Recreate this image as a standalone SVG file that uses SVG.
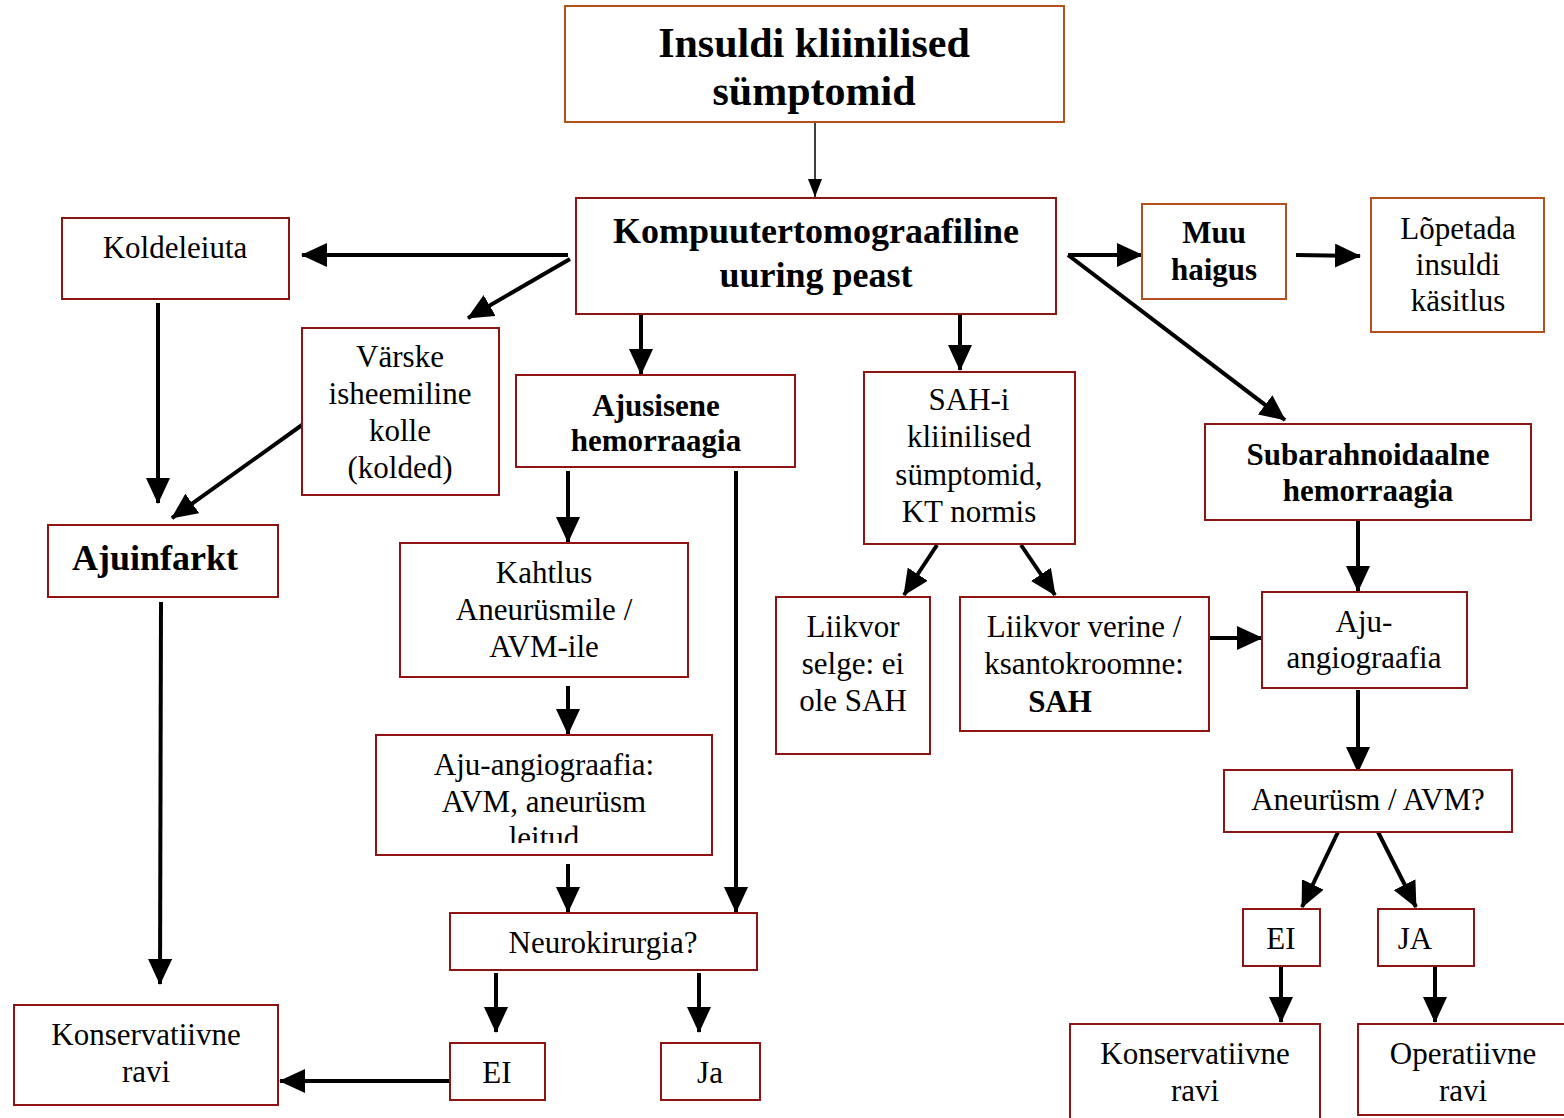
<svg xmlns="http://www.w3.org/2000/svg" width="1564" height="1118" viewBox="0 0 1564 1118">
<style>
.b{fill:#fff;stroke:#8e1414;stroke-width:2}
.o{fill:#fff;stroke:#b4501e;stroke-width:2}
text{font-family:"Liberation Serif","Times New Roman",serif;font-size:31px;fill:#000;text-anchor:middle}
.bd{font-weight:bold}
.c line{stroke:#000;stroke-width:4;marker-end:url(#ah)}
</style>
<defs>
<marker id="ah" markerUnits="userSpaceOnUse" markerWidth="26" markerHeight="24" refX="25" refY="12" orient="auto">
<path d="M0,0 L26,12 L0,24 z" fill="#000"/>
</marker>
<marker id="ahs" markerUnits="userSpaceOnUse" markerWidth="18" markerHeight="14" refX="18" refY="7" orient="auto">
<path d="M0,0 L18,7 L0,14 z" fill="#000"/>
</marker>
<clipPath id="clipAng"><rect x="376" y="735" width="336" height="108"/></clipPath>
</defs>
<g class="c" id="connectors">
<line x1="815" y1="122" x2="815" y2="197" style="stroke-width:1.5;marker-end:url(#ahs)"/>
<line x1="568" y1="255" x2="302" y2="255"/>
<line x1="570" y1="259" x2="468" y2="318"/>
<line x1="158" y1="303" x2="158" y2="503"/>
<line x1="302" y1="425" x2="172" y2="518"/>
<line x1="161" y1="602" x2="160" y2="984"/>
<line x1="450" y1="1081" x2="280" y2="1081"/>
<line x1="641" y1="314" x2="641" y2="374"/>
<line x1="568" y1="471" x2="568" y2="542"/>
<line x1="568" y1="686" x2="568" y2="734"/>
<line x1="568" y1="864" x2="568" y2="912"/>
<line x1="736" y1="471" x2="736" y2="912"/>
<line x1="496" y1="973" x2="496" y2="1032"/>
<line x1="699" y1="973" x2="699" y2="1032"/>
<line x1="960" y1="314" x2="960" y2="370"/>
<line x1="937" y1="545" x2="904" y2="595"/>
<line x1="1021" y1="545" x2="1055" y2="595"/>
<line x1="1209" y1="638" x2="1262" y2="638"/>
<line x1="1068" y1="255" x2="1142" y2="255"/>
<line x1="1068" y1="255" x2="1285" y2="420" style="marker-end:url(#ah)"/>
<line x1="1296" y1="255" x2="1360" y2="256"/>
<line x1="1358" y1="520" x2="1358" y2="591"/>
<line x1="1358" y1="690" x2="1358" y2="772"/>
<line x1="1338" y1="832" x2="1302" y2="907"/>
<line x1="1378" y1="832" x2="1416" y2="907"/>
<line x1="1281" y1="966" x2="1281" y2="1022"/>
<line x1="1435" y1="966" x2="1435" y2="1022"/>
</g>
<g id="n-insult"><rect class="o" x="565" y="6" width="499" height="116"/>
<text class="bd" x="814" y="57" style="font-size:42px">Insuldi kliinilised</text>
<text class="bd" x="814" y="105" style="font-size:42px">sümptomid</text></g>
<g id="n-kt"><rect class="b" x="576" y="198" width="480" height="116"/>
<text class="bd" x="816" y="243" style="font-size:36px">Kompuutertomograafiline</text>
<text class="bd" x="816" y="287" style="font-size:36px">uuring peast</text></g>
<g id="n-koldeleiuta"><rect class="b" x="62" y="218" width="227" height="81"/>
<text x="175" y="258">Koldeleiuta</text></g>
<g id="n-varske"><rect class="b" x="302" y="328" width="197" height="167"/>
<text x="400" y="367">Värske</text><text x="400" y="404">isheemiline</text><text x="400" y="441">kolle</text><text x="400" y="478">(kolded)</text></g>
<g id="n-ajuinfarkt"><rect class="b" x="48" y="525" width="230" height="72"/>
<text class="bd" x="155" y="570" style="font-size:36px">Ajuinfarkt</text></g>
<g id="n-konserv1"><rect class="b" x="14" y="1005" width="264" height="100"/>
<text x="146" y="1045">Konservatiivne</text><text x="146" y="1082">ravi</text></g>
<g id="n-ajusisene"><rect class="b" x="516" y="375" width="279" height="92"/>
<text class="bd" x="656" y="416">Ajusisene</text><text class="bd" x="656" y="451">hemorraagia</text></g>
<g id="n-kahtlus"><rect class="b" x="400" y="543" width="288" height="134"/>
<text x="544" y="583">Kahtlus</text><text x="544" y="620">Aneurüsmile /</text><text x="544" y="657">AVM-ile</text></g>
<g id="n-angio1"><rect class="b" x="376" y="735" width="336" height="120"/>
<text x="544" y="775">Aju-angiograafia:</text><text x="544" y="812">AVM, aneurüsm</text>
<text x="544" y="848" clip-path="url(#clipAng)">leitud</text></g>
<g id="n-neuro"><rect class="b" x="450" y="913" width="307" height="57"/>
<text x="603" y="953">Neurokirurgia?</text></g>
<g id="n-ei1"><rect class="b" x="450" y="1043" width="95" height="57"/>
<text x="497" y="1083">EI</text></g>
<g id="n-ja1"><rect class="b" x="661" y="1043" width="99" height="57"/>
<text x="710" y="1083">Ja</text></g>
<g id="n-sahi"><rect class="b" x="864" y="372" width="211" height="172"/>
<text x="969" y="410">SAH-i</text><text x="969" y="447">kliinilised</text><text x="969" y="485">sümptomid,</text><text x="969" y="522">KT normis</text></g>
<g id="n-selge"><rect class="b" x="776" y="597" width="154" height="157"/>
<text x="853" y="637">Liikvor</text><text x="853" y="674">selge: ei</text><text x="853" y="711">ole SAH</text></g>
<g id="n-verine"><rect class="b" x="960" y="597" width="249" height="134"/>
<text x="1084" y="637">Liikvor verine /</text><text x="1084" y="674">ksantokroomne:</text>
<text class="bd" x="1060" y="712">SAH</text></g>
<g id="n-muu"><rect class="o" x="1142" y="204" width="144" height="95"/>
<text class="bd" x="1214" y="243">Muu</text><text class="bd" x="1214" y="280">haigus</text></g>
<g id="n-lopetada"><rect class="o" x="1371" y="198" width="173" height="134"/>
<text x="1458" y="239">Lõpetada</text><text x="1458" y="275">insuldi</text><text x="1458" y="311">käsitlus</text></g>
<g id="n-sub"><rect class="b" x="1205" y="424" width="326" height="96"/>
<text class="bd" x="1368" y="465">Subarahnoidaalne</text><text class="bd" x="1368" y="501">hemorraagia</text></g>
<g id="n-angio2"><rect class="b" x="1262" y="592" width="205" height="96"/>
<text x="1364" y="632">Aju-</text><text x="1364" y="668">angiograafia</text></g>
<g id="n-aneur"><rect class="b" x="1224" y="770" width="288" height="62"/>
<text x="1368" y="810">Aneurüsm / AVM?</text></g>
<g id="n-ei2"><rect class="b" x="1243" y="909" width="77" height="57"/>
<text x="1281" y="949">EI</text></g>
<g id="n-ja2"><rect class="b" x="1378" y="909" width="96" height="57"/>
<text x="1415" y="949">JA</text></g>
<g id="n-konserv2"><rect class="b" x="1070" y="1024" width="250" height="100"/>
<text x="1195" y="1064">Konservatiivne</text><text x="1195" y="1101">ravi</text></g>
<g id="n-operat"><rect class="b" x="1358" y="1024" width="210" height="91"/>
<text x="1463" y="1064">Operatiivne</text><text x="1463" y="1101">ravi</text></g>
</svg>
